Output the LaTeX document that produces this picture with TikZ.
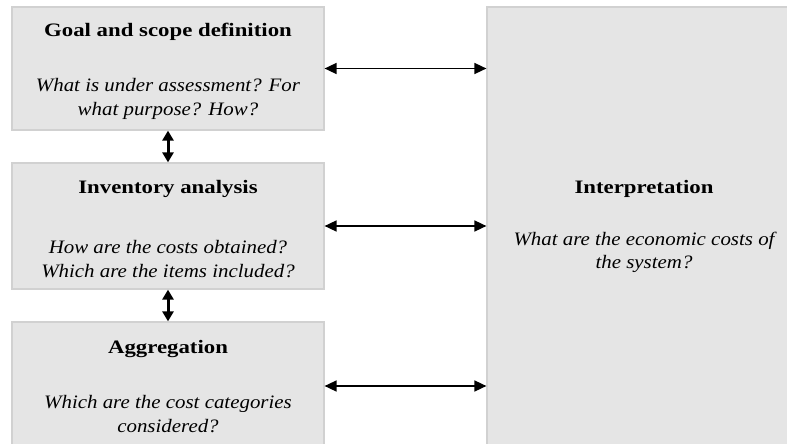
\documentclass[tikz,border=0pt]{standalone}
\usepackage{fontspec}
\setmainfont{Liberation Serif}[
  BoldFeatures={FakeStretch=1.2},
  ItalicFeatures={FakeStretch=1.1}]
\usetikzlibrary{arrows.meta}
\begin{document}
\begin{tikzpicture}[x=1pt,y=-1pt,
  stage/.style={draw=black!18,fill=black!10,line width=1.2pt,rectangle,inner sep=0pt},
  title/.style={anchor=base,font=\fontsize{19}{20}\selectfont\bfseries,inner sep=0pt},
  question/.style={anchor=base,font=\fontsize{19}{23}\selectfont\itshape,align=center,inner sep=0pt},
  link/.style={line width=1.6pt,{Triangle[length=12pt,width=11pt]}-{Triangle[length=12pt,width=11pt]}},
  vlink/.style={line width=3pt,{Triangle[length=10pt,width=11pt]}-{Triangle[length=10pt,width=11pt]}}]
\useasboundingbox (0,0) rectangle (787,444);
\clip (0,0) rectangle (787,444);
% stage boxes on the left
\node[stage,minimum width=312pt,minimum height=123pt] (goal) at (168,68.5) {};
\node[stage,minimum width=312pt,minimum height=126pt] (inv) at (168,226) {};
\node[stage,minimum width=312pt,minimum height=128pt] (agg) at (168,386) {};
% interpretation box on the right
\node[stage,minimum width=314pt,minimum height=460pt] (interp) at (644,237) {};
% texts
\node[title] (goalT) at (168,37) {Goal and scope definition};
\node[question] (goalQ) at (168,92) {What is under assessment? For};
\node[question] (goalQb) at (168,115) {what purpose? How?};
\node[title] (invT) at (168,193) {Inventory analysis};
\node[question] (invQ) at (168,253) {How are the costs obtained?};
\node[question] (invQb) at (168,277) {Which are the items included?};
\node[title] (aggT) at (168,353) {Aggregation};
\node[question] (aggQ) at (168,408) {Which are the cost categories};
\node[question] (aggQb) at (168,432) {considered?};
\node[title] (intT) at (644,193) {Interpretation};
\node[question] (intQ) at (644,245) {What are the economic costs of};
\node[question] (intQb) at (644,268) {the system?};
% connectors
\draw[link] (goal.east) -- (goal.east -| interp.west);
\draw[link] (inv.east) -- (inv.east -| interp.west);
\draw[link] (agg.east) -- (agg.east -| interp.west);
\draw[vlink] (goal.south) -- (inv.north);
\draw[vlink] (inv.south) -- (agg.north);
\end{tikzpicture}
\end{document}
